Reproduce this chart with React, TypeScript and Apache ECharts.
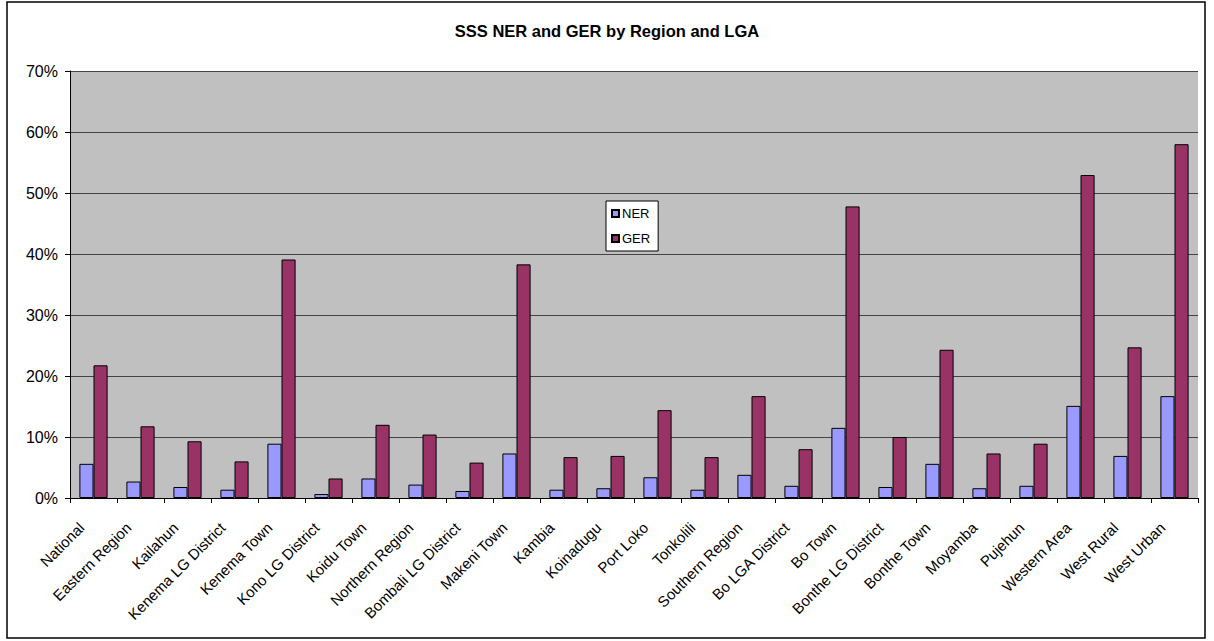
import React, { useEffect, useRef } from "react";
import * as echarts from "echarts";

const categories = [
  "National", "Eastern Region", "Kailahun", "Kenema LG District", "Kenema Town",
  "Kono LG District", "Koidu Town", "Northern Region", "Bombali LG District", "Makeni Town",
  "Kambia", "Koinadugu", "Port Loko", "Tonkolili", "Southern Region", "Bo LGA District",
  "Bo Town", "Bonthe LG District", "Bonthe Town", "Moyamba", "Pujehun", "Western Area",
  "West Rural", "West Urban",
];

const nerValues = [
  0.056, 0.027, 0.018, 0.0136, 0.089, 0.0065, 0.032, 0.022, 0.0115, 0.073,
  0.0136, 0.016, 0.034, 0.0136, 0.038, 0.020, 0.115, 0.018, 0.056, 0.016,
  0.020, 0.151, 0.069, 0.167,
];

const gerValues = [
  0.2175, 0.1175, 0.093, 0.060, 0.391, 0.032, 0.120, 0.104, 0.058, 0.383,
  0.067, 0.069, 0.144, 0.067, 0.167, 0.080, 0.478, 0.100, 0.243, 0.073,
  0.089, 0.5295, 0.247, 0.580,
];

const seriesNames = ["NER", "GER"];
const FONT = "'Liberation Sans', Arial, sans-serif";

export default function App() {
  const ref = useRef<HTMLDivElement>(null);

  useEffect(() => {
    if (!ref.current) return;
    const chart = echarts.init(ref.current, null, { renderer: "svg" });
    chart.setOption({
      animation: false,
      backgroundColor: "#ffffff",
      textStyle: { fontFamily: FONT, color: "#000" },
      title: {
        text: "SSS NER and GER by Region and LGA",
        left: "center",
        top: 17,
        textStyle: { fontFamily: FONT, fontSize: 16.5, fontWeight: "bold", color: "#000" },
      },
      graphic: [
        {
          type: "rect",
          shape: { x: 7, y: 2, width: 1198, height: 636 },
          style: { fill: "none", stroke: "#000", lineWidth: 1.5 },
          silent: true,
        },
      ],
      legend: {
        data: seriesNames,
        orient: "vertical",
        left: 606,
        top: 201,
        backgroundColor: "#fff",
        borderColor: "#000",
        borderWidth: 1,
        padding: [6, 8, 6, 5],
        itemGap: 12,
        itemWidth: 7,
        itemHeight: 7,
        icon: "rect",
        textStyle: { fontFamily: FONT, fontSize: 13, color: "#000", padding: [0, 0, 0, -2] },
      },
      grid: { left: 70, right: 16, top: 71, bottom: 143, show: true, backgroundColor: "#C0C0C0", borderWidth: 0 },
      xAxis: {
        type: "category",
        data: categories,
        axisLine: { lineStyle: { color: "#000", width: 1 } },
        axisTick: { show: true, length: 5, lineStyle: { color: "#000" } },
        axisLabel: {
          rotate: 45,
          fontFamily: FONT,
          fontSize: 15,
          color: "#000",
          margin: 15,
          padding: [0, 17, 0, 0],
          interval: 0,
        },
      },
      yAxis: {
        type: "value",
        min: 0,
        max: 0.7,
        interval: 0.1,
        axisLine: { show: true, lineStyle: { color: "#000", width: 1 } },
        axisTick: { show: true, length: 5, lineStyle: { color: "#000" } },
        axisLabel: {
          fontFamily: FONT,
          fontSize: 16,
          color: "#000",
          margin: 12,
          formatter: (v: number) => Math.round(v * 100) + "%",
        },
        splitLine: { show: true, lineStyle: { color: "#444", width: 1 } },
      },
      series: [
        {
          name: seriesNames[0],
          type: "bar",
          data: nerValues,
          barGap: "0%",
          barCategoryGap: "40%",
          itemStyle: { color: "#9999FF", borderColor: "#000", borderWidth: 1 },
        },
        {
          name: seriesNames[1],
          type: "bar",
          data: gerValues,
          barGap: "0%",
          barCategoryGap: "40%",
          itemStyle: { color: "#993366", borderColor: "#000", borderWidth: 1 },
        },
      ],
    });
    return () => chart.dispose();
  }, []);

  return (
    <div
      ref={ref}
      style={{ position: "fixed", left: 0, top: 0, width: 1214, height: 641 }}
    />
  );
}
